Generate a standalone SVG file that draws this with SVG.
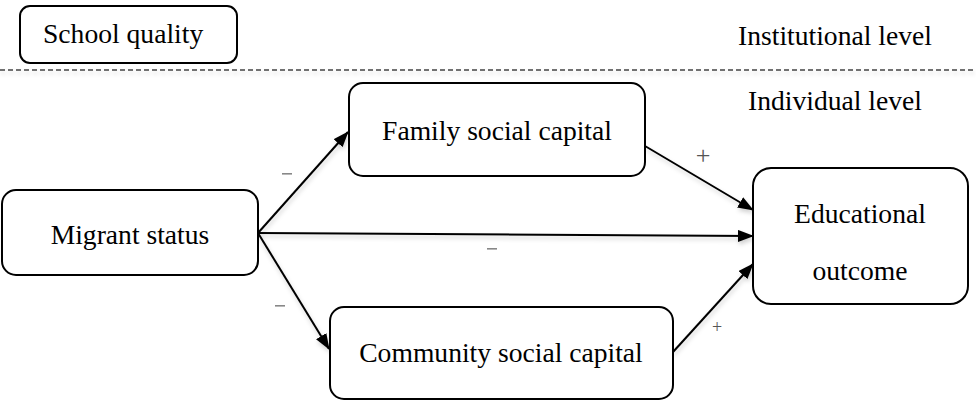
<svg xmlns="http://www.w3.org/2000/svg" width="976" height="401" viewBox="0 0 976 401">
  <defs>
    <style>
      .box { fill: #ffffff; stroke: #000000; stroke-width: 2; }
      .lbl { font-family: "Liberation Serif", "Times New Roman", "DejaVu Serif", serif; font-size: 27.6px; fill: #000000; }
      .edge { stroke: #000000; stroke-width: 2; fill: none; marker-end: url(#head); }
      .sign { font-family: "Liberation Serif", "Times New Roman", serif; fill: #555555; text-anchor: middle; }
    </style>
    <marker id="head" viewBox="0 0 16 12" refX="15" refY="6" markerWidth="16" markerHeight="12" markerUnits="userSpaceOnUse" orient="auto">
      <path d="M0,0 L16,6 L0,12 z" fill="#000000"/>
    </marker>
    <filter id="shade" filterUnits="userSpaceOnUse" x="0" y="0" width="976" height="401">
      <feDropShadow dx="1" dy="3" stdDeviation="2" flood-color="#000000" flood-opacity="0.18"/>
    </filter>
  </defs>

  <rect width="976" height="401" fill="#ffffff"/>

  <!-- level divider -->
  <line x1="0" y1="70" x2="976" y2="70" stroke="#444444" stroke-width="1.3" stroke-dasharray="5 3" filter="url(#shade)"/>
  <text class="lbl" x="738" y="45">Institutional level</text>
  <text class="lbl" x="748" y="110">Individual level</text>

  <!-- connectors -->
  <g id="connectors" filter="url(#shade)">
    <line class="edge" x1="258" y1="233" x2="348" y2="132"/>
    <line class="edge" x1="258" y1="233" x2="753" y2="236"/>
    <line class="edge" x1="258" y1="233" x2="329" y2="349"/>
    <line class="edge" x1="645" y1="146" x2="753" y2="210"/>
    <line class="edge" x1="673" y1="352" x2="753" y2="264"/>
  </g>

  <!-- path signs -->
  <g id="signs">
    <rect x="282" y="173" width="10" height="1.6" fill="#888888"/>
    <rect x="487" y="248" width="10" height="1.6" fill="#888888"/>
    <rect x="275" y="305" width="10" height="1.6" fill="#888888"/>
    <text class="sign" x="703" y="164" font-size="26">+</text>
    <text class="sign" x="717" y="333" font-size="18">+</text>
  </g>

  <g id="school-quality">
    <rect class="box" x="20" y="6" width="217" height="57" rx="10"/>
    <text class="lbl" x="43" y="43">School quality</text>
  </g>

  <g id="migrant-status">
    <rect class="box" x="2" y="190" width="256" height="85" rx="14"/>
    <text class="lbl" x="130" y="244" text-anchor="middle">Migrant status</text>
  </g>

  <g id="family-social-capital">
    <rect class="box" x="349" y="83" width="296" height="93" rx="14"/>
    <text class="lbl" x="497" y="140" text-anchor="middle">Family social capital</text>
  </g>

  <g id="community-social-capital">
    <rect class="box" x="330" y="307" width="343" height="92" rx="14"/>
    <text class="lbl" x="501" y="362" text-anchor="middle">Community social capital</text>
  </g>

  <g id="educational-outcome">
    <rect class="box" x="753" y="168" width="215" height="136" rx="18"/>
    <text class="lbl" x="860" y="223" text-anchor="middle">Educational</text>
    <text class="lbl" x="860" y="280" text-anchor="middle">outcome</text>
  </g>
</svg>
